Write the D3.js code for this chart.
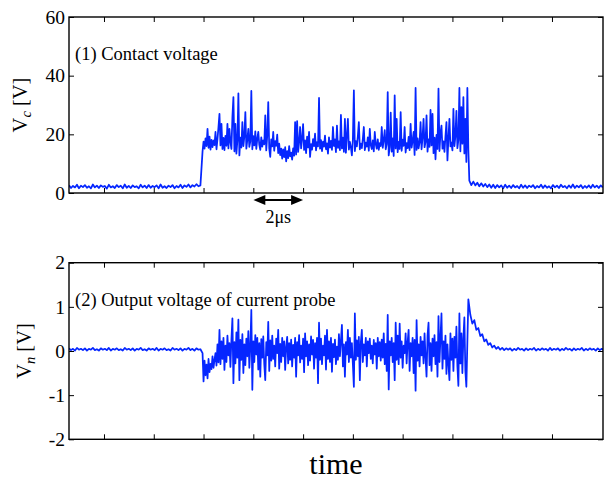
<!DOCTYPE html>
<html>
<head>
<meta charset="utf-8">
<script src="https://cdn.jsdelivr.net/npm/d3@7"></script>
<style>
  body { margin: 0; background: #fff; }
  svg { display: block; font-family: "Liberation Serif", "Times New Roman", serif; }
</style>
</head>
<body>
<script>
// time in µs, one tick every 2 µs
const timeTicks = [0, 2, 4, 6, 8, 10, 12, 14, 16, 18];
const vcTicks = [0, 20, 40, 60];
const vnTicks = [-2, -1, 0, 1, 2];

// sample intervals (µs)
const dtFine = 0.04, dtCoarse = 0.08;

// (1) contact voltage [V]
const vcBefore = [
  2.6,1.7,2.4,1.9,2.8,1.6,2.5,2.0,2.7,1.8,
  2.3,1.6,2.9,1.9,2.5,1.7,2.6,2.1,2.4,1.5,
  2.8,1.9,2.3,1.7,2.7,2.0,2.5,1.6,2.9,1.8,
  2.4,1.7,2.6,2.0,2.3,1.6,2.8,1.9,2.5,1.7,
  2.7,1.8,2.4,2.0,2.6,1.6,2.9,1.8,2.3,1.7,
  2.5,2.0,2.7,1.6,2.4,1.9,2.8,1.7,2.6,2.1,
  2.9,1.9,2.7,2.2,3.0,2.3,2.6
];
const vcBurst = [
  14.2,17.5,15.1,18.6,16.0,21.9,15.4,19.2,14.8,18.1,
  15.6,17.9,16.3,20.8,14.9,18.4,22.5,27.0,16.2,23.6,
  15.0,18.8,14.6,19.5,16.1,23.6,15.2,21.9,17.4,15.0,
  26.0,32.7,14.2,23.6,13.4,17.8,34.0,12.8,18.9,15.5,
  24.2,16.0,19.3,27.6,15.1,18.2,21.9,15.7,17.6,34.8,
  14.9,19.4,16.2,21.0,15.0,18.5,20.8,16.4,14.7,19.0,
  15.8,17.9,16.6,26.5,14.5,19.6,31.0,15.2,12.3,18.3,
  15.9,20.8,14.4,17.7,16.1,19.9,13.6,16.8,12.9,15.1,
  11.7,14.9,12.2,15.6,10.8,14.3,11.9,16.0,12.5,13.8,
  11.4,15.2,12.7,24.2,13.1,24.5,14.0,17.3,22.5,15.2,
  18.6,23.5,14.7,17.9,13.6,19.2,15.5,20.8,12.3,16.7,
  14.8,18.4,16.0,20.2,14.5,17.3,15.9,32.4,15.1,18.0,
  14.3,17.5,15.8,19.6,14.9,16.9,13.4,19.0,15.5,17.8,
  14.7,22.5,16.0,18.3,13.9,23.0,15.4,17.6,14.6,26.6,
  15.2,18.9,14.0,25.3,13.7,19.5,25.3,14.8,17.4,15.6,
  12.8,18.2,35.0,14.3,17.7,15.9,19.4,24.2,14.9,16.8,
  15.3,18.5,22.5,14.6,17.2,15.8,19.0,14.4,21.9,16.3,
  15.0,17.9,14.2,20.8,16.6,15.1,18.3,14.7,17.0,16.0,
  22.5,15.4,18.1,21.4,14.9,16.7,34.4,12.8,15.6,27.4,
  14.1,18.6,12.6,33.3,15.2,25.3,13.9,17.4,15.0,27.6,
  14.4,18.2,16.1,22.5,13.8,17.0,15.3,19.1,14.6,23.6,
  15.5,17.8,20.8,13.0,35.8,14.7,18.6,15.2,17.3,24.2,
  14.9,19.0,25.3,15.6,17.4,26.5,14.1,18.3,15.7,28.3,
  16.2,27.0,13.6,18.9,11.5,19.8,15.0,35.6,14.3,20.4,
  23.0,15.1,17.6,14.0,19.3,24.2,11.1,18.7,25.3,15.9,
  17.2,14.5,28.7,16.0,19.4,28.0,15.3,18.1,35.8,14.2,
  29.3,16.8,32.7,13.5,25.3,10.6,35.8,14.8
];
const vcAfter = [
  4.2,2.7,3.9,2.6,3.5,2.3,3.3,2.2,3.1,2.0,
  2.9,1.8,2.8,1.7,2.7,1.9,2.6,1.6,2.8,1.8,
  2.5,1.7,2.7,1.9,2.4,1.6,2.8,1.8,2.6,1.7,
  2.5,2.0,2.7,1.6,2.4,1.9,2.8,1.7,2.6,1.8,
  2.3,1.6,2.7,1.9,2.5,1.7,2.8,2.0,2.4,1.6,
  2.6,1.8,2.9,1.7,2.5,1.9,2.7,1.6,2.4,1.8,
  2.6,1.7,2.8,1.9,2.5,1.7,2.6,1.9
];

// (2) output voltage of current probe [V]
const vnBefore = [
  0.06,0.02,0.05,0.01,0.07,0.03,0.05,0.02,0.06,0.01,
  0.05,0.03,0.07,0.02,0.04,0.01,0.06,0.03,0.05,0.02,
  0.07,0.01,0.05,0.03,0.06,0.02,0.04,0.01,0.07,0.03,
  0.05,0.02,0.06,0.01,0.05,0.03,0.07,0.02,0.04,0.01,
  0.06,0.03,0.05,0.02,0.07,0.01,0.05,0.03,0.06,0.02,
  0.04,0.01,0.07,0.03,0.05,0.02,0.06,0.01,0.05,0.03,
  0.07,0.02,0.05,0.01,0.06,0.03,0.04
];
const vnBurst = [
  -0.05,-0.69,-0.22,-0.55,-0.31,-0.62,-0.18,-0.48,-0.29,-0.41,
  -0.12,-0.38,-0.20,-0.05,-0.33,0.15,-0.26,0.48,-0.30,0.22,
  -0.18,0.30,-0.43,0.12,-0.25,0.35,-0.10,0.18,-0.36,0.26,
  0.74,-0.73,0.20,-0.28,0.42,-0.15,0.71,-0.66,0.25,-0.20,
  0.38,-0.50,0.15,-0.32,0.28,-0.12,0.45,-0.38,0.10,0.93,
  -0.88,0.22,-0.25,0.36,-0.08,0.30,-0.42,0.18,-0.58,0.27,
  -0.15,0.33,-0.30,-0.66,0.20,-0.10,0.66,-0.45,0.24,-0.22,
  0.35,-0.18,0.12,-0.35,0.28,-0.05,0.48,-0.40,0.16,-0.25,
  0.30,-0.12,0.22,-0.43,0.10,0.32,-0.28,0.18,-0.20,0.26,
  -0.35,0.14,-0.15,0.30,-0.58,0.20,-0.10,0.36,-0.26,0.12,
  -0.18,0.28,-0.48,0.40,-0.12,0.22,-0.32,0.15,-0.22,0.33,
  -0.08,0.25,-0.40,0.18,-0.15,0.30,-0.73,0.64,-0.20,0.28,
  -0.30,0.12,-0.10,0.35,-0.42,0.48,-0.18,0.22,-0.25,0.30,
  -0.47,0.16,-0.14,0.26,-0.30,0.10,-0.20,0.38,-0.12,0.24,
  0.59,-0.35,0.15,-0.58,0.20,-0.08,0.48,-0.25,0.30,-0.15,
  0.18,-0.30,-0.81,0.85,-0.20,0.24,-0.12,0.32,-0.66,0.20,
  0.48,-0.25,0.15,-0.10,0.30,-0.35,0.22,-0.05,0.28,-0.18,
  0.12,-0.28,0.25,-0.08,0.18,-0.40,0.30,-0.12,0.20,-0.22,
  0.26,-0.15,0.40,-0.30,0.16,-0.45,0.82,-0.87,0.22,-0.10,
  0.30,-0.25,0.18,-0.66,0.64,-0.20,0.35,-0.30,0.62,-0.15,
  0.22,-0.38,0.12,-0.05,0.40,-0.28,0.20,0.48,-0.45,0.18,
  -0.12,0.30,-0.50,0.25,-0.90,0.70,-0.22,0.15,-0.35,0.32,
  -0.10,0.22,-0.28,0.40,-0.15,-0.58,0.35,0.64,-0.32,0.18,
  -0.45,0.28,-0.12,0.36,-0.30,0.20,-0.58,0.79,-0.25,0.30,
  0.85,-0.40,0.22,-0.18,0.35,-0.52,0.15,-0.30,-0.66,0.40,
  -0.20,0.28,-0.45,0.32,-0.15,0.55,-0.35,-0.79,0.85,-0.28,
  0.40,-0.50,0.30,0.76,-0.45,-0.81,0.20,1.17
];
const vnAfter = [
  0.82,0.62,0.70,0.48,0.52,0.34,0.38,0.22,0.26,0.14,
  0.18,0.08,0.12,0.05,0.09,0.03,0.07,0.02,0.06,0.03,
  0.06,0.01,0.05,0.02,0.07,0.03,0.05,0.01,0.06,0.02,
  0.05,0.03,0.07,0.01,0.05,0.02,0.06,0.03,0.05,0.01,
  0.07,0.02,0.05,0.03,0.06,0.01,0.05,0.02,0.07,0.03,
  0.05,0.01,0.06,0.02,0.05,0.03,0.07,0.01,0.05,0.02,
  0.06,0.03,0.05,0.01,0.06,0.02,0.05,0.02
];

// segment start times (µs)
const tBefore = -1.406, tBurst = 3.96, tVcAfter = 14.68, tVnAfter = 14.72;

const samples = (t0, dt, vals) => vals.map((v, i) => [t0 + i * dt, v]);

const width = 604, height = 480;
const margin = { left: 69, right: 603 };

const svg = d3.select("body").append("svg")
  .attr("width", width)
  .attr("height", height);

const x = d3.scaleLinear().domain([-1.406, 20.05]).range([margin.left, margin.right]);

const panels = [
  {
    id: "p1", top: 17, bottom: 193, domain: [0, 60], ticks: vcTicks,
    data: [].concat(samples(tBefore, dtCoarse, vcBefore), samples(tBurst, dtFine, vcBurst), samples(tVcAfter, dtCoarse, vcAfter)),
    note: "(1) Contact voltage", noteY: 60, sub: "c", titleX: 27
  },
  {
    id: "p2", top: 262.7, bottom: 439.3, domain: [-2, 2], ticks: vnTicks,
    data: [].concat(samples(tBefore, dtCoarse, vnBefore), samples(tBurst, dtFine, vnBurst), samples(tVnAfter, dtCoarse, vnAfter)),
    note: "(2) Output voltage of current probe", noteY: 306, sub: "n", titleX: 31
  }
];

panels.forEach(p => {
  const y = d3.scaleLinear().domain(p.domain).range([p.bottom, p.top]);
  const g = svg.append("g");

  g.append("clipPath").attr("id", "clip-" + p.id)
    .append("rect")
    .attr("x", margin.left).attr("y", p.top)
    .attr("width", margin.right - margin.left).attr("height", p.bottom - p.top);

  const line = d3.line().x(d => x(d[0])).y(d => y(d[1]));
  g.append("path")
    .datum(p.data)
    .attr("clip-path", `url(#clip-${p.id})`)
    .attr("fill", "none")
    .attr("stroke", "#0526ff")
    .attr("stroke-width", 1.75)
    .attr("stroke-linejoin", "round")
    .attr("d", line);

  // inward ticks on all four sides
  const left = g.append("g").attr("transform", `translate(${margin.left},0)`)
    .call(d3.axisLeft(y).tickValues(p.ticks).tickSize(-5).tickPadding(4).tickFormat(d => String(d)));
  g.append("g").attr("transform", `translate(${margin.right},0)`)
    .call(d3.axisRight(y).tickValues(p.ticks).tickSize(-5).tickFormat(""));
  g.append("g").attr("transform", `translate(0,${p.bottom})`)
    .call(d3.axisBottom(x).tickValues(timeTicks).tickSize(-5).tickFormat(""));
  g.append("g").attr("transform", `translate(0,${p.top})`)
    .call(d3.axisTop(x).tickValues(timeTicks).tickSize(-5).tickFormat(""));
  g.selectAll(".domain").remove();
  g.selectAll(".tick line").attr("stroke", "#000").attr("stroke-width", 1);
  left.selectAll("text")
    .attr("font-family", "Liberation Serif, Times New Roman, serif")
    .attr("font-size", 19.5)
    .attr("fill", "#000");

  g.append("rect")
    .attr("x", margin.left).attr("y", p.top)
    .attr("width", margin.right - margin.left).attr("height", p.bottom - p.top)
    .attr("fill", "none").attr("stroke", "#000").attr("stroke-width", 1.4);

  g.append("text")
    .attr("x", 75).attr("y", p.noteY)
    .attr("font-size", 18.5)
    .text(p.note);

  const title = g.append("text")
    .attr("transform", `translate(${p.titleX},${(p.top + p.bottom) / 2}) rotate(-90)`)
    .attr("text-anchor", "middle")
    .attr("font-size", 20.5);
  title.append("tspan").text("V");
  title.append("tspan").attr("font-style", "italic").attr("font-size", 14.5).attr("dy", 4).text(p.sub);
  title.append("tspan").attr("dy", -4).text(" [V]");
});

// 2 µs scale marker
const ax0 = x(6), ax1 = x(8), ay = 200;
svg.append("line")
  .attr("x1", ax0 + 8).attr("x2", ax1 - 8).attr("y1", ay).attr("y2", ay)
  .attr("stroke", "#000").attr("stroke-width", 2);
svg.append("path")
  .attr("d", `M${ax0},${ay}L${ax0 + 12},${ay - 5}L${ax0 + 12},${ay + 5}Z M${ax1},${ay}L${ax1 - 12},${ay - 5}L${ax1 - 12},${ay + 5}Z`)
  .attr("fill", "#000");
svg.append("text")
  .attr("x", (ax0 + ax1) / 2).attr("y", 223)
  .attr("text-anchor", "middle")
  .attr("font-size", 18)
  .text("2μs");

svg.append("text")
  .attr("x", (margin.left + margin.right) / 2).attr("y", 474)
  .attr("text-anchor", "middle")
  .attr("font-size", 30)
  .text("time");
</script>
</body>
</html>
